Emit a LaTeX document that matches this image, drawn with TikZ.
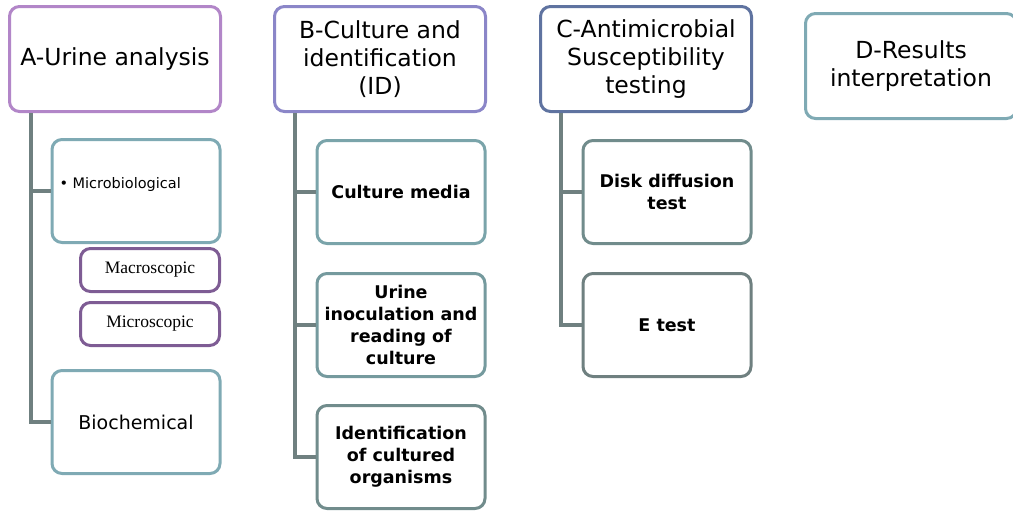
\documentclass[tikz,border=0pt]{standalone}
\usepackage{fontspec}
\setmainfont{DejaVu Sans}
\newfontfamily\timesfont{Liberation Serif}
\usetikzlibrary{positioning}

\definecolor{apurple}{RGB}{178,134,200}
\definecolor{bpurple}{RGB}{139,134,200}
\definecolor{cblue}{RGB}{95,115,160}
\definecolor{lteal}{RGB}{127,170,180}
\definecolor{mauve}{RGB}{126,92,148}
\definecolor{tealA}{RGB}{122,164,170}
\definecolor{tealB}{RGB}{117,154,158}
\definecolor{tealC}{RGB}{113,140,140}
\definecolor{greyline}{RGB}{111,128,128}

\begin{document}
\begin{tikzpicture}
    [x=1pt,y=-1pt,
     every node/.style={draw, line width=3pt, rounded corners=10pt, align=center, fill=white, inner sep=2pt},
     head/.style={minimum width=211pt, minimum height=105pt, font=\fontsize{23.5}{28}\selectfont},
     item/.style={minimum width=168pt, minimum height=103pt, font=\fontsize{17.5}{22}\selectfont\bfseries},
     small/.style={minimum width=139pt, minimum height=43pt, draw=mauve, font=\timesfont\fontsize{17.5}{18}\selectfont},
     link/.style={draw=greyline, line width=3.3pt}]
  \useasboundingbox (0,0) rectangle (1013,514);

  % top row
  \node[head, draw=apurple] (a) at (115,59) {A-Urine analysis};
  \node[head, draw=bpurple] (b) at (380,59) {B-Culture and\\identification\\(ID)};
  \node[head, draw=cblue] (c) at (646,59) {C-Antimicrobial\\Susceptibility\\testing};
  \node[head, draw=lteal] (d) at (911,66) {D-Results\\interpretation};

  % A column
  \node[item, draw=lteal] (micro) at (136,191) {};
  \node[draw=none, fill=none, anchor=west, font=\fontsize{14.5}{17}\selectfont] (microtxt) at (56,184) {\textbullet\ Microbiological};
  \node[small] (macro) at (150,270) {Macroscopic};
  \node[small] (micros) at (150,324) {Microscopic};
  \node[item, draw=lteal, font=\fontsize{19}{22}\selectfont] (bio) at (136,422) {Biochemical};

  % B column
  \node[item, draw=tealA] (media) at (401,192) {Culture media};
  \node[item, draw=tealB] (inoc) at (401,325) {Urine\\inoculation and\\reading of\\culture};
  \node[item, draw=tealC] (ident) at (401,457) {Identification\\of cultured\\organisms};

  % C column
  \node[item, draw=tealC] (disk) at (667,192) {Disk diffusion\\test};
  \node[item, draw=greyline] (etest) at (667,325) {E test};

  \foreach \from/\to/\dx in {a/micro/23, a/bio/23, b/media/22, b/inoc/22, b/ident/22, c/disk/22, c/etest/22}
    \draw[link] ([xshift=\dx pt]\from.south west) |- (\to.west);
\end{tikzpicture}
\end{document}
